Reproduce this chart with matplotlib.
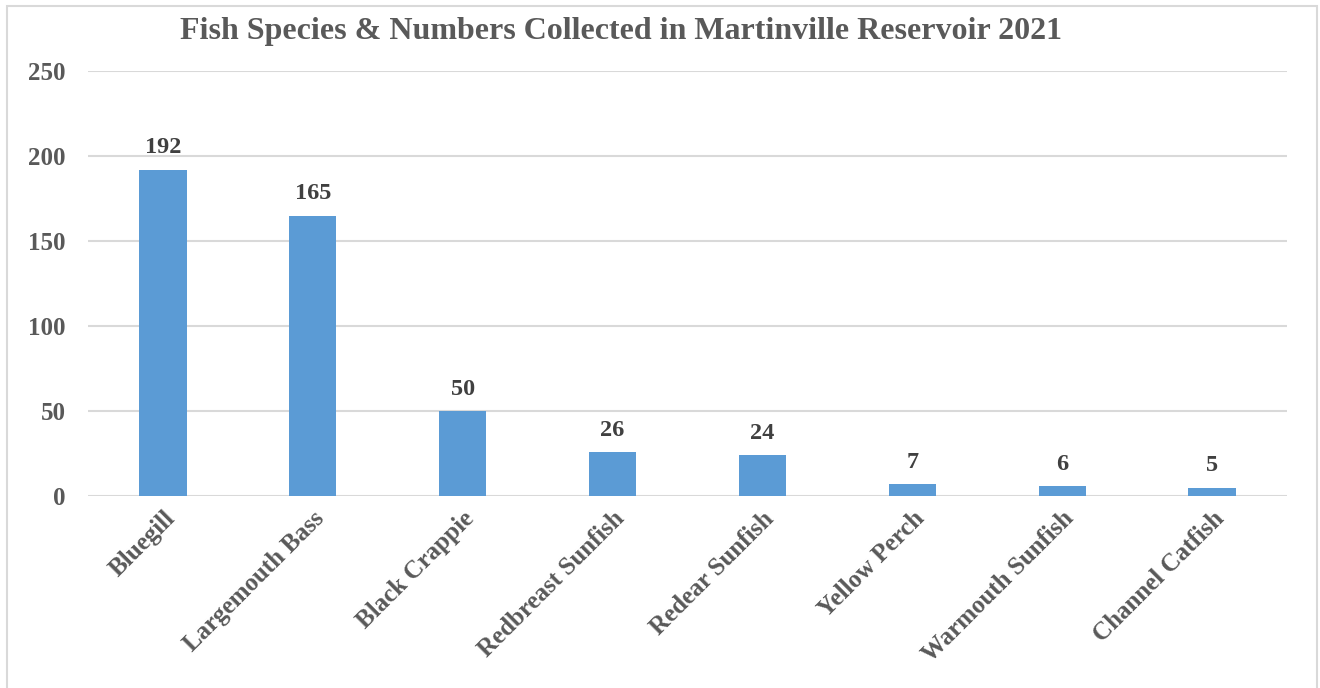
import matplotlib
matplotlib.use('Agg')
import matplotlib.pyplot as plt
from matplotlib.patches import Rectangle

species = ['Bluegill', 'Largemouth Bass', 'Black Crappie', 'Redbreast Sunfish',
           'Redear Sunfish', 'Yellow Perch', 'Warmouth Sunfish', 'Channel Catfish']
counts = [192, 165, 50, 26, 24, 7, 6, 5]
yticks = [0, 50, 100, 150, 200, 250]

plt.rcParams['font.family'] = ['Liberation Serif', 'DejaVu Serif']
plt.rcParams['font.weight'] = 'bold'

fig = plt.figure(figsize=(13.2, 6.88), dpi=100)
fig.patches.append(Rectangle((7/1320, -0.01), 1310/1320, 1.01 - 6/688,
                             transform=fig.transFigure, fill=False,
                             edgecolor='#d9d9d9', linewidth=1.5))
ax = fig.add_axes([88/1320, 192/688, 1199/1320, 425/688])

x = range(len(species))
ax.bar(x, counts, width=0.315, color='#5b9bd5', zorder=3)
ax.set_xlim(-0.5, len(species) - 0.5)
ax.set_ylim(0, 250)
ax.set_yticks(yticks)
ax.set_yticklabels([str(v) for v in yticks], fontsize=18, fontweight='bold', color='#595959')
ax.grid(axis='y', color='#d9d9d9', linewidth=1.5, zorder=0)
for s in ax.spines.values():
    s.set_visible(False)
ax.tick_params(length=0)
ax.tick_params(axis='y', pad=16)
ax.tick_params(axis='x', pad=8)

ax.set_xticks(list(x))
ax.set_xticklabels(species, rotation=45, ha='right', va='top', rotation_mode='anchor',
                   fontsize=18, fontweight='bold', color='#595959')

for i, v in zip(x, counts):
    ax.annotate(str(v), (i, v), xytext=(0, 8), textcoords='offset points',
                ha='center', va='bottom', fontsize=17.5, fontweight='bold', color='#404040')

fig.text(621/1320, 1 - 32/688, 'Fish Species & Numbers Collected in Martinville Reservoir 2021',
         ha='center', va='center', fontsize=23, fontweight='bold', color='#595959')

fig.savefig('out.png', dpi=100)
